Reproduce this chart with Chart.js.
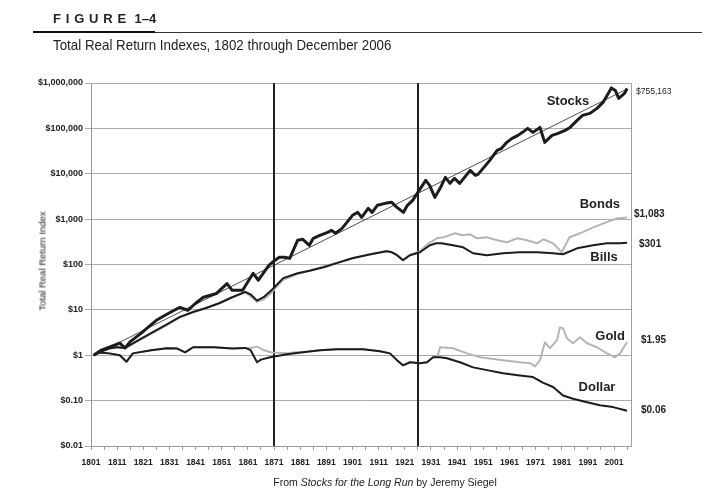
<!DOCTYPE html>
<html>
<head>
<meta charset="utf-8">
<script src="https://cdn.jsdelivr.net/npm/chart.js@4.4.0/dist/chart.umd.min.js"></script>
<style>
  body { margin: 0; background: #fff; font-family: "Liberation Sans", Arial, sans-serif; color: #222; }
  #wrap { position: relative; width: 702px; height: 497px; overflow: hidden; }
  #chart { position: absolute; left: 0; top: 0; }
  .fig { position: absolute; left: 53px; top: 11px; font-weight: bold; font-size: 13px; white-space: nowrap; }
  .fig .sp { letter-spacing: 4.8px; }
  .rule-thick { position: absolute; left: 33px; top: 31px; width: 122px; height: 2px; background: #111; }
  .rule-thin { position: absolute; left: 155px; top: 32px; width: 547px; height: 1px; background: #333; }
  .sub { position: absolute; left: 53px; top: 36px; font-size: 15px; white-space: nowrap; transform: scaleX(0.89); transform-origin: left top; }
  .ytitle { position: absolute; left: 42px; top: 261px; font-size: 9.5px; color: #222; white-space: nowrap; transform: translate(-50%, -50%) rotate(-90deg); }
  .cap { position: absolute; left: 0; width: 770px; top: 476px; text-align: center; font-size: 10.5px; }
</style>
</head>
<body>
<div id="wrap">
  <canvas id="chart" width="702" height="497"></canvas>
  <div class="fig"><span class="sp">FIGURE</span> 1–4</div>
  <div class="rule-thick"></div>
  <div class="rule-thin"></div>
  <div class="sub">Total Real Return Indexes, 1802 through December 2006</div>
  <div class="ytitle">Total Real Return Index</div>
  <div class="cap">From <i>Stocks for the Long Run</i> by Jeremy Siegel</div>
</div>
<script>
// values (real $ index, 1802 = $1)
const stockYears = [1802, 1805, 1808, 1812, 1814, 1816, 1820, 1823, 1826, 1830, 1835, 1838, 1841, 1844, 1849, 1853, 1855, 1859, 1863, 1865, 1869, 1871, 1873, 1875, 1877,
  1880, 1882, 1884.5, 1886, 1888.5, 1891.5, 1893, 1894.5, 1897, 1901, 1903, 1904.5, 1907, 1908.5, 1910.5, 1913.5, 1916, 1918, 1920.5, 1922, 1924, 1926,
  1929, 1930.5, 1932.5, 1934.5, 1936.5, 1938.3, 1940, 1942, 1946, 1948, 1949, 1953.5, 1956.3, 1958, 1960, 1962, 1964.3, 1966, 1968, 1970, 1972.7, 1974.5,
  1977.3, 1979.6, 1982.3, 1984.2, 1986.9, 1989, 1991.8, 1994.5, 1996.8, 2000, 2001.5, 2002.8, 2005, 2006];
const stockVals = [1.0, 1.3, 1.5, 1.85, 1.45, 2.0, 3.0, 4.2, 5.9, 8.0, 11.4, 9.8, 14, 19, 23, 38, 27, 27, 64, 45, 96, 120, 144, 144, 137,
  341, 359, 265, 378, 440, 512, 566, 487, 627, 1213, 1412, 1096, 1730, 1412, 2014, 2228, 2345, 1820, 1412, 2014, 2594, 3890,
  7160, 5550, 3020, 4770, 8320, 6150, 7920, 6150, 11900, 9220, 9700, 19700, 32700, 36300, 49200, 60200, 70100, 81700, 100000, 81700, 105000, 49200,
  70100, 77600, 90300, 105000, 150000, 193000, 214000, 276000, 374000, 780000, 687000, 457000, 589000, 755163];

const bondYears = [1802, 1805, 1808, 1811, 1814, 1816, 1820, 1825, 1830, 1835, 1840, 1845, 1850, 1855, 1860, 1862, 1864.5, 1867, 1870, 1874.5, 1880, 1885, 1890, 1895,
  1901, 1908, 1914, 1916, 1918, 1920.3, 1923, 1926.8, 1930, 1933.3, 1936, 1940.2, 1943, 1946, 1948.6, 1952.4, 1956.3, 1960, 1964, 1967.7, 1971.6, 1974,
  1977.7, 1981, 1984, 1988, 1993, 1998, 2002, 2006];
const bondVals = [1.0, 1.25, 1.45, 1.55, 1.4, 1.65, 2.2, 3.2, 4.6, 6.8, 8.8, 11, 14, 19, 24, 20, 15, 17, 24, 46, 62, 75, 90, 110,
  140, 170, 198, 190, 165, 128, 165, 195, 290, 378, 400, 487, 440, 463, 378, 398, 341, 308, 378, 341, 293, 360,
  293, 186, 398, 487, 660, 850, 1030, 1083];

const billYears = [1802, 1805, 1808, 1811, 1814, 1816, 1820, 1825, 1830, 1835, 1840, 1845, 1850, 1855, 1860, 1862, 1864.5, 1867, 1870, 1874.5, 1880, 1885, 1890, 1895,
  1901, 1908, 1914, 1916, 1918, 1920.3, 1923, 1926.8, 1930.6, 1933, 1935, 1939.4, 1943.3, 1947.1, 1952.4, 1958.6, 1965, 1971.6, 1977.7, 1981.5, 1986.9,
  1993, 1998.3, 2003.3, 2006];
const billVals = [1.0, 1.2, 1.4, 1.5, 1.45, 1.7, 2.3, 3.3, 4.8, 7.0, 9.0, 11, 14, 19, 25, 22, 16, 19, 27, 50, 64, 74, 87, 107,
  137, 168, 195, 186, 160, 124, 160, 186, 265, 293, 293, 265, 239, 177, 160, 177, 186, 186, 177, 168, 227,
  265, 293, 293, 301];

const goldYears = [1802, 1804, 1808, 1812, 1814.6, 1817, 1824, 1830, 1834, 1837, 1840, 1848, 1855, 1860, 1862, 1864.5, 1867, 1870, 1876, 1879, 1882, 1888.6, 1895, 1899,
  1905, 1911.5, 1915.3, 1918, 1920.3, 1923, 1926.8, 1929.5, 1931.8, 1933.5, 1934.5, 1939.4, 1944.8, 1949.8, 1958.6, 1965, 1968.9, 1970.8, 1972.7, 1974.6,
  1976.5, 1979.2, 1980.3, 1981.5, 1983, 1985.3, 1988, 1990.7, 1994.5, 1998.3, 2001.4, 2003.3, 2006];
const goldVals = [1.0, 1.15, 1.1, 1.0, 0.72, 1.1, 1.29, 1.43, 1.4, 1.16, 1.5, 1.5, 1.4, 1.45, 1.45, 1.55, 1.3, 1.15, 1.1, 1.16, 1.16, 1.29, 1.36, 1.36,
  1.36, 1.22, 1.1, 0.78, 0.6, 0.7, 0.67, 0.7, 0.9, 0.95, 1.5, 1.43, 1.1, 0.9, 0.78, 0.7, 0.67, 0.57, 0.78, 1.93,
  1.43, 2.14, 4.1, 3.93, 2.37, 1.84, 2.49, 1.84, 1.5, 1.1, 0.9, 1.1, 1.95];

const dollarYears = [1802, 1804, 1808, 1812, 1814.6, 1817, 1824, 1830, 1834, 1837, 1840, 1848, 1855, 1860, 1862, 1864.5, 1866, 1869.5, 1876, 1882, 1888.6, 1895, 1899,
  1905, 1911.5, 1915.3, 1918, 1920.3, 1923, 1926.8, 1929.5, 1931.8, 1934.5, 1937.1, 1942.1, 1947.1, 1952.4, 1958.6, 1965, 1970, 1973.8, 1977.7, 1981.5,
  1985.3, 1990.7, 1995.6, 2000.6, 2006];
const dollarVals = [1.0, 1.15, 1.1, 1.0, 0.72, 1.1, 1.29, 1.43, 1.4, 1.16, 1.5, 1.5, 1.4, 1.45, 1.3, 0.7, 0.8, 0.9, 1.05, 1.16, 1.29, 1.36, 1.36,
  1.36, 1.22, 1.1, 0.78, 0.6, 0.7, 0.67, 0.7, 0.9, 0.9, 0.86, 0.7, 0.54, 0.47, 0.4, 0.36, 0.33, 0.25, 0.2, 0.13,
  0.11, 0.092, 0.079, 0.072, 0.06];

// thin straight trend line through stocks
const trendYears = [1802, 2006];
const trendVals = [1.0, 740000];

// the two dividing years drawn as heavy verticals
const markerYears = [1871, 1926];

const yTickValues = [0.01, 0.1, 1, 10, 100, 1000, 10000, 100000, 1000000];
const yTickLabels = ['$0.01', '$0.10', '$1', '$10', '$100', '$1,000', '$10,000', '$100,000', '$1,000,000'];
const xTickLabels = ['1801', '1811', '1821', '1831', '1841', '1851', '1861', '1871', '1881', '1891', '1901',
  '1911', '1921', '1931', '1941', '1951', '1961', '1971', '1981', '1991', '2001'];

const seriesNames = ['Stocks', 'Bonds', 'Bills', 'Gold', 'Dollar'];
const nameYears = [1983.4, 1995.6, 1997.2, 1999.5, 1994.5];
const nameVals = [394000, 2120, 144, 2.62, 0.197];
const endLabels = ['$755,163', '$1,083', '$301', '$1.95', '$0.06'];

const FONT = '"Liberation Sans", Arial, sans-serif';
const pts = (xs, ys) => xs.map((x, i) => ({ x: x, y: ys[i] }));
const lastOf = a => a[a.length - 1];

// tick marks every 5 years, labels every 10
const xTickYears = [];
for (let y = 1801; y <= 2006; y += 5) xTickYears.push(y);

const labelStyle = [
  { dx: 5, dy: 3, font: '8.5px ' + FONT },
  { dx: 3, dy: -3, font: 'bold 10px ' + FONT },
  { dx: 8, dy: 1, font: 'bold 10px ' + FONT },
  { dx: 10, dy: -2, font: 'bold 10px ' + FONT },
  { dx: 10, dy: 0, font: 'bold 10px ' + FONT }
];

const overlay = {
  id: 'overlay',
  beforeDatasetsDraw(chart) {
    const { ctx, chartArea: a, scales: { x } } = chart;
    ctx.save();
    ctx.strokeStyle = '#a0a0a0';
    ctx.lineWidth = 1;
    ctx.beginPath();
    ctx.moveTo(a.right + 0.5, a.top);
    ctx.lineTo(a.right + 0.5, a.bottom);
    ctx.stroke();
    ctx.strokeStyle = '#222';
    ctx.lineWidth = 2;
    markerYears.forEach(yr => {
      const px = Math.round(x.getPixelForValue(yr));
      ctx.beginPath();
      ctx.moveTo(px, a.top);
      ctx.lineTo(px, a.bottom);
      ctx.stroke();
    });
    ctx.restore();
  },
  afterDraw(chart) {
    const { ctx, chartArea: a, scales: { x, y } } = chart;
    ctx.save();
    ctx.fillStyle = '#222';
    ctx.textBaseline = 'middle';
    ctx.textAlign = 'center';
    ctx.font = 'bold 13px ' + FONT;
    seriesNames.forEach((n, i) => {
      ctx.fillText(n, x.getPixelForValue(nameYears[i]), y.getPixelForValue(nameVals[i]));
    });
    ctx.textAlign = 'left';
    const finals = [lastOf(stockVals), lastOf(bondVals), lastOf(billVals), lastOf(goldVals), lastOf(dollarVals)];
    endLabels.forEach((t, i) => {
      const st = labelStyle[i];
      ctx.font = st.font;
      ctx.fillText(t, a.right + st.dx, y.getPixelForValue(finals[i]) + st.dy);
    });
    ctx.restore();
  }
};

new Chart(document.getElementById('chart'), {
  type: 'line',
  data: {
    datasets: [
      { label: 'Trend', data: pts(trendYears, trendVals), borderColor: '#222', borderWidth: 0.8, order: 1 },
      { label: 'Stocks', data: pts(stockYears, stockVals), borderColor: '#1c1c1c', borderWidth: 3, order: 0 },
      { label: 'Bonds', data: pts(bondYears, bondVals), borderColor: '#b5b5b5', borderWidth: 2, order: 4 },
      { label: 'Bills', data: pts(billYears, billVals), borderColor: '#1c1c1c', borderWidth: 2, order: 2 },
      { label: 'Gold', data: pts(goldYears, goldVals), borderColor: '#b5b5b5', borderWidth: 2, order: 5 },
      { label: 'Dollar', data: pts(dollarYears, dollarVals), borderColor: '#1c1c1c', borderWidth: 2, order: 3 }
    ]
  },
  options: {
    responsive: false,
    animation: false,
    layout: { padding: { top: 83, right: 71, left: 0, bottom: 0 } },
    plugins: { legend: { display: false }, tooltip: { enabled: false } },
    elements: { point: { radius: 0 }, line: { tension: 0, borderJoinStyle: 'round' } },
    scales: {
      x: {
        type: 'linear',
        min: 1801,
        max: 2007.5,
        afterBuildTicks: s => { s.ticks = xTickYears.map(v => ({ value: v })); },
        afterFit: s => { s.height = 51; },
        grid: { drawOnChartArea: false, drawTicks: true, tickLength: 4, color: '#999' },
        border: { color: '#999' },
        ticks: {
          autoSkip: false, maxRotation: 0, padding: 8, color: '#222',
          font: { family: FONT, size: 8.5, weight: 'bold' },
          callback: v => xTickLabels.includes(String(v)) ? String(v) : ''
        }
      },
      y: {
        type: 'logarithmic',
        min: 0.01,
        max: 1000000,
        afterBuildTicks: s => { s.ticks = yTickValues.map(v => ({ value: v })); },
        afterFit: s => { s.width = 91; },
        grid: { color: '#ababab', tickLength: 6 },
        border: { color: '#999' },
        ticks: {
          padding: 2, color: '#222',
          font: { family: FONT, size: 9, weight: 'bold' },
          callback: (v, i) => yTickLabels[i]
        }
      }
    }
  },
  plugins: [overlay]
});
</script>
</body>
</html>
